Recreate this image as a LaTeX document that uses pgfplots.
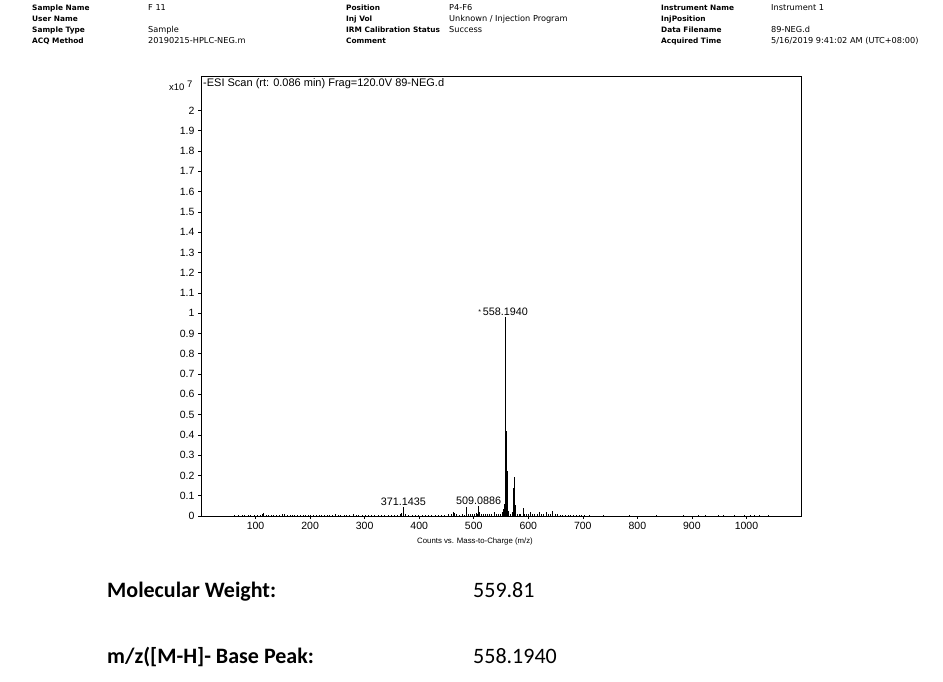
\documentclass[border=0pt]{standalone}
\usepackage{pgfplots}
\pgfplotsset{compat=1.18}
\usepackage{fontspec}
\setmainfont{Liberation Sans}
\newfontfamily\hdr{DejaVu Sans}
\newfontfamily\calib{Carlito}
\begin{document}
\begin{tikzpicture}[x=1pt,y=1pt]
\path[use as bounding box,fill=white] (0,0) rectangle (943,681);
% header
\newcommand{\hl}[3]{\node[anchor=base west,inner sep=0pt,font=\hdr\fontsize{7.4}{8}\selectfont\bfseries] at (#1,#2) {#3};}
\newcommand{\hv}[3]{\node[anchor=base west,inner sep=0pt,font=\hdr\fontsize{8.2}{8}\selectfont] at (#1,#2) {#3};}
\hl{32}{670}{Sample Name}
\hl{32}{659}{User Name}
\hl{32}{648}{Sample Type}
\hl{32}{637}{ACQ Method}
\hv{148}{670}{F 11}
\hv{148}{648}{Sample}
\hv{148}{637}{20190215-HPLC-NEG.m}
\hl{346}{670}{Position}
\hl{346}{659}{Inj Vol}
\hl{346}{648}{IRM Calibration Status}
\hl{346}{637}{Comment}
\hv{449}{670}{P4-F6}
\hv{449}{659}{Unknown / Injection Program}
\hv{449}{648}{Success}
\hl{661}{670}{Instrument Name}
\hl{661}{659}{InjPosition}
\hl{661}{648}{Data Filename}
\hl{661}{637}{Acquired Time}
\hv{771}{670}{Instrument 1}
\hv{771}{648}{89-NEG.d}
\hv{771}{637}{5/16/2019 9:41:02 AM (UTC+08:00)}
% multiplier
\node[anchor=base west,inner sep=0pt,font=\fontsize{9.5}{10}\selectfont] at (169,590) {x10\;\raisebox{3pt}{7}};
\begin{axis}[
  at={(201pt,165pt)}, anchor=south west,
  width=600pt, height=440pt, scale only axis,
  xmin=0, xmax=1100, ymin=0, ymax=2.17,
  axis line style={black, line width=0.8pt},
  xtick={100,200,...,1000},
  ytick={0,0.1,...,2.01},
  xticklabel style={/pgf/number format/set thousands separator={}},
  yticklabel style={/pgf/number format/fixed,/pgf/number format/precision=1},
  /pgf/number format/assume math mode=true,
  tick label style={font=\fontsize{10.5}{11}\selectfont},
  tick align=outside, major tick length=3pt,
  xtick pos=bottom, ytick pos=left,
  tick style={black, line width=0.6pt},
  clip=true,
]
\addplot[ycomb, black, line width=0.7pt] coordinates {
(62,0.004)(68,0.003)(75,0.005)(80,0.003)(86,0.006)(91,0.004)(97,0.007)(103,0.005)
(108,0.004)(112,0.009)(115,0.014)(119,0.006)(124,0.005)(129,0.007)(133,0.004)(138,0.006)
(143,0.005)(149,0.008)(153,0.010)(158,0.006)(163,0.005)(168,0.007)(172,0.004)(177,0.006)
(182,0.005)(187,0.007)(191,0.004)(196,0.006)(201,0.005)(206,0.007)(212,0.004)(217,0.006)
(221,0.005)(226,0.006)(231,0.004)(236,0.007)(241,0.006)(246,0.009)(251,0.005)(256,0.004)
(262,0.006)(267,0.005)(272,0.004)(279,0.008)(284,0.005)(289,0.006)(295,0.004)(301,0.005)
(307,0.006)(312,0.004)(318,0.005)(325,0.006)(331,0.007)(337,0.005)(343,0.004)(349,0.006)
(355,0.005)(360,0.007)(365,0.010)(368,0.016)(371.1435,0.045)(375,0.008)(381,0.005)(387,0.006)
(393,0.004)(399,0.005)(405,0.006)(411,0.004)(417,0.005)(423,0.007)(429,0.006)(435,0.005)
(441,0.007)(447,0.006)(453,0.008)(459,0.010)(462,0.020)(465,0.016)(469,0.008)(474,0.006)
(479,0.009)(483,0.007)(487.1,0.045)(490,0.012)(493,0.010)(497,0.008)(501,0.012)(505,0.016)
(507,0.012)(509.0886,0.050)(511,0.020)(514,0.010)(518,0.008)(521,0.012)(525,0.008)(529,0.010)
(533,0.012)(537,0.018)(541,0.010)(545,0.008)(549,0.012)(552,0.020)(554,0.035)(556,0.050)
(557,0.060)(558.194,0.98)(559.3,0.42)(560.8,0.22)(561.8,0.06)(562.8,0.025)(564,0.012)(567,0.010)
(570,0.020)(572.9,0.14)(575.2,0.19)(576.2,0.055)(577.2,0.020)(580,0.010)(583,0.008)(586,0.010)
(590.6,0.040)(593,0.010)(597,0.008)(601,0.010)(604,0.022)(608,0.010)(612,0.008)(616,0.012)
(620,0.020)(624,0.010)(628,0.012)(633,0.020)(637,0.012)(641,0.010)(645,0.025)(649,0.010)
(653,0.008)(658,0.006)(663,0.007)(668,0.005)(673,0.006)(678,0.007)(683,0.005)(688,0.006)
(693,0.005)(698,0.007)(703,0.004)(712,0.003)(724,0.002)(738,0.003)(752,0.002)(770,0.002)
(785,0.003)(803,0.002)(818,0.002)(834,0.003)(851,0.002)(868,0.002)(884,0.003)(897,0.002)
(912,0.003)(924,0.004)(936,0.002)(948,0.003)(957,0.003)(966,0.002)(978,0.003)(989,0.002)
(997,0.003)(1008,0.004)(1015,0.003)(1024,0.003)(1031,0.002)(1040,0.003)(1048,0.002)
};
\node[anchor=south,inner sep=1.5pt,font=\fontsize{10.8}{11}\selectfont] at (axis cs:371.1435,0.045) {371.1435};
\node[anchor=south,inner sep=1.5pt,font=\fontsize{10.8}{11}\selectfont] at (axis cs:509.0886,0.050) {509.0886};
\node[anchor=south,inner sep=1.5pt,font=\fontsize{10.8}{11}\selectfont] at (axis cs:558.194,0.98) {\llap{\raisebox{1pt}{\scriptsize*}\,}558.1940};
\node[anchor=north west,inner sep=2pt,font=\fontsize{11}{12}\selectfont] at (rel axis cs:0,1) {-ESI Scan (rt: 0.086 min) Frag=120.0V 89-NEG.d};
\end{axis}
\node[anchor=base,inner sep=0pt,font=\fontsize{7.8}{8}\selectfont] at (475,138) {Counts vs. Mass-to-Charge (m/z)};
% bottom text
\node[anchor=base west,inner sep=0pt,font=\calib\fontsize{22}{24}\selectfont\bfseries] at (107,84) {Molecular Weight:};
\node[anchor=base west,inner sep=0pt,font=\calib\fontsize{22}{24}\selectfont] at (473,84) {559.81};
\node[anchor=base west,inner sep=0pt,font=\calib\fontsize{22}{24}\selectfont\bfseries] at (107,18) {m/z([M-H]- Base Peak:};
\node[anchor=base west,inner sep=0pt,font=\calib\fontsize{22}{24}\selectfont] at (473,18) {558.1940};
\end{tikzpicture}
\end{document}
